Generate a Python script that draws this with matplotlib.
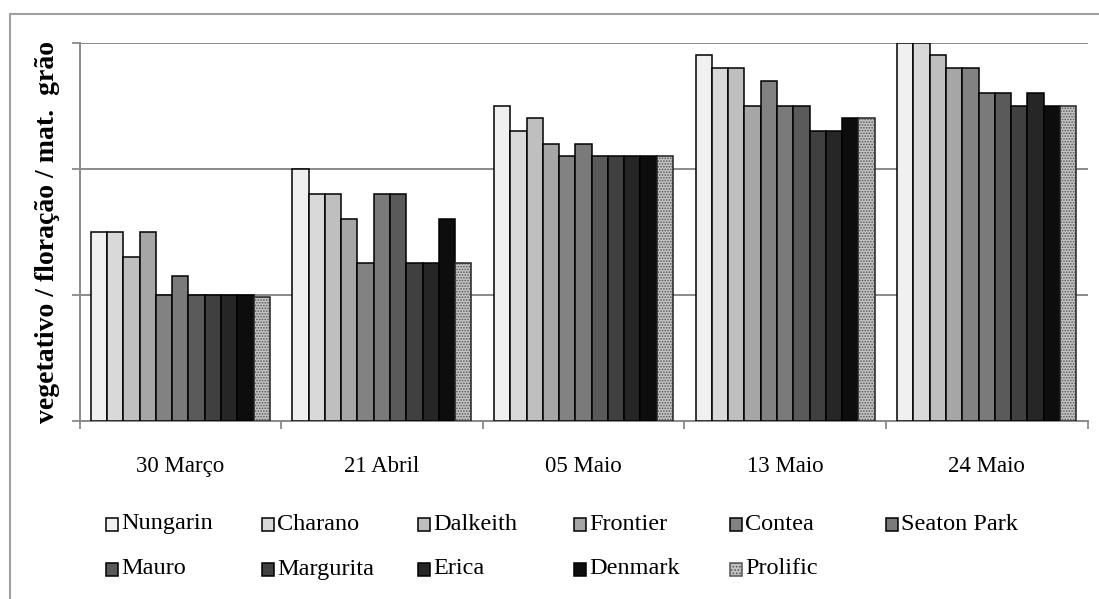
import matplotlib
matplotlib.use('Agg')
import matplotlib.pyplot as plt
from matplotlib.patches import Rectangle
import numpy as np

plt.rcParams['font.family'] = ['Liberation Serif', 'DejaVu Serif']
plt.rcParams['hatch.linewidth'] = 0.8

dates = ['30 Março', '21 Abril', '05 Maio', '13 Maio', '24 Maio']
varieties = ['Nungarin', 'Charano', 'Dalkeith', 'Frontier', 'Contea', 'Seaton Park',
             'Mauro', 'Margurita', 'Erica', 'Denmark', 'Prolific']

# stage reached by each variety on each date (1 vegetativo, 2 floração, 3 mat. grão)
nungarin = [1.5, 2.0, 2.5, 2.9, 3.0]
charano = [1.5, 1.8, 2.3, 2.8, 3.0]
dalkeith = [1.3, 1.8, 2.4, 2.8, 2.9]
frontier = [1.5, 1.6, 2.2, 2.5, 2.8]
contea = [1.0, 1.25, 2.1, 2.7, 2.8]
seaton_park = [1.15, 1.8, 2.2, 2.5, 2.6]
mauro = [1.0, 1.8, 2.1, 2.5, 2.6]
margurita = [1.0, 1.25, 2.1, 2.3, 2.5]
erica = [1.0, 1.25, 2.1, 2.3, 2.6]
denmark = [1.0, 1.6, 2.1, 2.4, 2.5]
prolific = [0.98, 1.25, 2.1, 2.4, 2.5]

series = [nungarin, charano, dalkeith, frontier, contea, seaton_park,
          mauro, margurita, erica, denmark, prolific]
colors = ['#f0f0f0', '#d9d9d9', '#bfbfbf', '#a6a6a6', '#828282', '#7a7a7a',
          '#5a5a5a', '#404040', '#262626', '#0d0d0d', '#c4c4c4']

W, H = 1099, 599
fig = plt.figure(figsize=(W / 100, H / 100), dpi=100)
grid_c = '#8a8a8a'


def fx(px):
    return px / W


def fy(py):
    return 1 - py / H


# outer frame
fig.add_artist(Rectangle((fx(10), fy(640)), fx(1120), 640 / H - 14 / H,
                         transform=fig.transFigure, fill=False,
                         edgecolor='#a0a0a0', lw=1.5))

ax = fig.add_axes([fx(79.5), fy(421), fx(1008), (421 - 42.7) / H])
n = len(series)
bw = 0.888 / n
x = np.arange(len(dates))
for i, (vals, c) in enumerate(zip(series, colors)):
    left = x + 0.056 + i * bw
    if varieties[i] == 'Prolific':
        ax.bar(left, vals, width=bw, align='edge', color=c, hatch='......',
               edgecolor='#555555', lw=0, zorder=3)
        ax.bar(left, vals, width=bw, align='edge', fill=False,
               edgecolor='#222222', lw=1.1, zorder=4)
    else:
        ax.bar(left, vals, width=bw, align='edge', color=c,
               edgecolor='black', lw=1.1, zorder=3)

ax.set_xlim(0, 5)
ax.set_ylim(0, 3)
ax.set_yticks([0, 1, 2, 3])
ax.set_yticklabels([])
ax.set_xticks(np.arange(6))
ax.set_xticklabels([])
ax.set_xticks(x + 0.5, minor=True)
ax.set_xticklabels(dates, minor=True, fontsize=16.5)
ax.tick_params(axis='x', which='minor', length=0, pad=25)
ax.tick_params(axis='both', which='major', length=6, width=1.3, color=grid_c)
ax.yaxis.grid(True, color=grid_c, lw=1.4)
ax.set_axisbelow(True)
for s in ['top', 'right']:
    ax.spines[s].set_visible(False)
for s in ['left', 'bottom']:
    ax.spines[s].set_color(grid_c)
    ax.spines[s].set_linewidth(1.4)

fig.text(fx(48), fy(232), 'vegetativo / floração / mat.  grão', rotation=90,
         ha='center', va='center', fontsize=20, fontweight='bold')

# legend, two rows of six columns
for i, (name, c) in enumerate(zip(varieties, colors)):
    row, col = divmod(i, 6)
    x0 = 106 + 156 * col
    yc = 524 + 45 * row
    kw = dict(transform=fig.transFigure, facecolor=c, edgecolor='black', lw=1.1)
    if name == 'Prolific':
        kw.update(hatch='.....', edgecolor='#555555')
    fig.add_artist(Rectangle((fx(x0), fy(yc + 6.5)), fx(12), 13 / H, **kw))
    fig.text(fx(x0 + 15), fy(yc), name, ha='left', va='center', fontsize=17.5)

fig.savefig('out.png', dpi=100)
